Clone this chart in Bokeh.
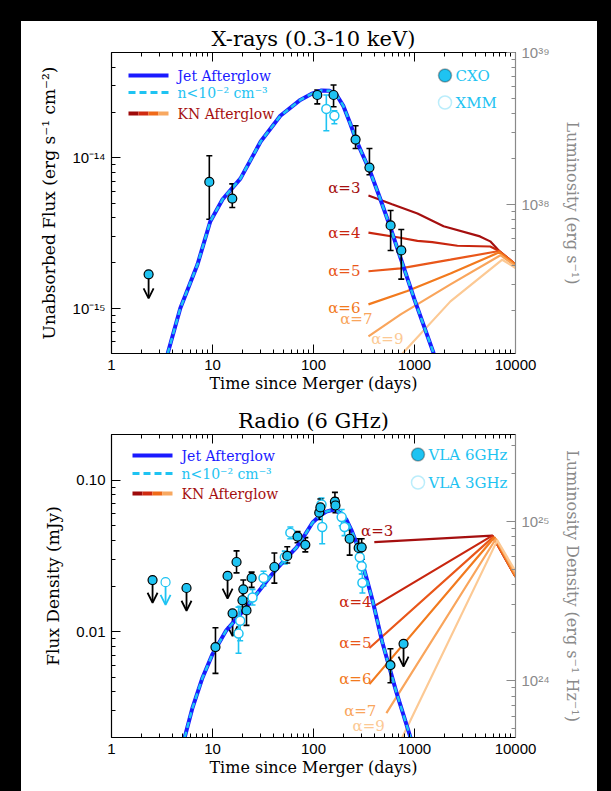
import numpy as np
from bokeh.plotting import figure
from bokeh.models import (Range1d, LogScale, LogAxis, FixedTicker, CustomJSTickFormatter,
                          ColumnDataSource, Whisker, TeeHead, Arrow, OpenHead, Label,
                          BoxAnnotation)
from bokeh.layouts import column
from bokeh.embed import file_html
from bokeh.resources import INLINE

# ------------------------------------------------------------------ data
# X-rays: jet afterglow model (days, erg s^-1 cm^-2)
xray_model_t = [3.6, 4.8, 7.1, 9.5, 12.6, 18.9, 30, 47, 74, 95, 120, 145, 170, 198, 230,
                261, 300, 366, 450, 580, 730, 1000, 1550]
xray_model_f = [5.0e-16, 1.0e-15, 1.95e-15, 3.77e-15, 5.3e-15, 7.26e-15, 1.28e-14, 1.9e-14,
                2.42e-14, 2.65e-14, 2.8e-14, 2.78e-14, 2.6e-14, 2.2e-14, 1.7e-14, 1.34e-14,
                1.08e-14, 8.0e-15, 5.5e-15, 3.4e-15, 2.14e-15, 1.14e-15, 5.0e-16]

# X-rays: kilonova afterglow curves
kn_alpha = ["3", "4", "5", "6", "7", "9"]
xray_kn_t = [[350, 600, 1070, 1940, 4450, 5620, 6900, 10000],
             [350, 700, 1070, 1500, 2660, 5620, 6900, 10000],
             [350, 730, 2270, 6900, 10000],
             [350, 850, 2270, 6900, 10000],
             [350, 730, 2270, 7100, 10000],
             [760, 2270, 7400, 10000]]
xray_kn_f = [[5.6e-15, 4.9e-15, 4.26e-15, 3.5e-15, 3.0e-15, 2.78e-15, 2.4e-15, 1.95e-15],
             [3.18e-15, 2.95e-15, 2.8e-15, 2.75e-15, 2.6e-15, 2.57e-15, 2.4e-15, 1.95e-15],
             [1.76e-15, 1.84e-15, 2.1e-15, 2.4e-15, 1.95e-15],
             [1.06e-15, 1.3e-15, 1.7e-15, 2.35e-15, 1.95e-15],
             [6.5e-16, 9.1e-16, 1.44e-15, 2.25e-15, 1.9e-15],
             [5.0e-16, 1.11e-15, 2.1e-15, 1.85e-15]]

# X-rays: observations
cxo_t = [9.3, 15.7, 109, 158, 261, 358, 580, 740]
cxo_f = [6.9e-15, 5.35e-15, 2.61e-14, 2.61e-14, 1.32e-14, 8.6e-15, 3.55e-15, 2.42e-15]
cxo_lo = [3.9e-15, 4.67e-15, 2.28e-14, 2.18e-14, 1.15e-14, 7.7e-15, 2.42e-15, 1.56e-15]
cxo_hi = [1.03e-14, 6.7e-15, 2.82e-14, 3.04e-14, 1.63e-14, 1.15e-14, 4.46e-15, 3.33e-15]
cxo_ul_t = [2.33]
cxo_ul_f = [1.68e-15]
xmm_t = [134, 161]
xmm_f = [2.11e-14, 1.9e-14]
xmm_lo = [1.51e-14, 1.68e-14]
xmm_hi = [2.61e-14, 2.05e-14]

# Radio: jet afterglow model (days, mJy)
radio_model_t = [5.3, 6.3, 7.9, 10, 13.7, 18.5, 27, 39, 55, 68, 83, 98, 115, 134, 160, 190,
                 211, 240, 266, 305, 384, 480, 660, 935]
radio_model_f = [0.002, 0.0031, 0.0049, 0.0071, 0.0102, 0.0128, 0.0175, 0.024, 0.031, 0.036,
                 0.044, 0.0525, 0.058, 0.062, 0.064, 0.060, 0.055, 0.046, 0.0386, 0.0284,
                 0.0161, 0.0085, 0.004, 0.0019]

# Radio: kilonova afterglow curves
radio_kn_t = [[400, 5900, 10000], [384, 5900, 10000], [358, 6000, 10000],
              [358, 6200, 10000], [527, 6400, 10000], [700, 6600, 10000]]
radio_kn_f = [[0.039, 0.043, 0.023], [0.0145, 0.043, 0.023], [0.0078, 0.042, 0.023],
              [0.0045, 0.042, 0.023], [0.0029, 0.041, 0.024], [0.0018, 0.040, 0.025]]

# Radio: observations
vla6_t = [10.7, 17.3, 19.8, 20.2, 21.7, 24.4, 41, 55, 69.5, 83, 114, 117, 163, 165, 228,
          280, 300, 578]
vla6_f = [0.0079, 0.0288, 0.0161, 0.019, 0.0138, 0.0226, 0.0267, 0.0316, 0.0424, 0.0374,
          0.061, 0.066, 0.072, 0.068, 0.041, 0.0357, 0.036, 0.0060]
vla6_lo = [0.0053, 0.0244, 0.0135, 0.0154, 0.011, 0.0196, 0.0209, 0.0284, 0.0386, 0.0336,
           0.055, 0.060, 0.064, 0.061, 0.032, 0.030, 0.030, 0.0046]
vla6_hi = [0.0106, 0.0341, 0.019, 0.0219, 0.0166, 0.0247, 0.033, 0.0363, 0.0457, 0.0417,
           0.067, 0.075, 0.083, 0.076, 0.047, 0.041, 0.041, 0.0077]
vla6_ul_t = [2.55, 5.53, 14.1, 15.8, 779]
vla6_ul_f = [0.0219, 0.0194, 0.0233, 0.0132, 0.0083]
vla3_t = [18.1, 18.8, 24.9, 32, 52, 59, 120, 122, 190, 203, 287, 300, 305]
vla3_f = [0.0097, 0.0118, 0.0168, 0.0226, 0.031, 0.045, 0.069, 0.049, 0.057, 0.049, 0.031,
          0.027, 0.021]
vla3_lo = [0.0072, 0.0087, 0.015, 0.020, 0.028, 0.041, 0.062, 0.038, 0.050, 0.043, 0.027,
           0.024, 0.018]
vla3_hi = [0.0145, 0.0147, 0.019, 0.025, 0.034, 0.049, 0.076, 0.069, 0.064, 0.055, 0.035,
           0.030, 0.024]
vla3_ul_t = [3.43]
vla3_ul_f = [0.0212]

x_decades = [1, 10, 100, 1000, 10000]

# ------------------------------------------------------------------ style
SERIF = "DejaVu Serif"
SANS = "Liberation Sans"
BLUE = "#1a1aff"
CYAN = "#1ec3f2"
GRAY = "#8a8a8a"
DARKRED = "#a50f0f"
KN_COLORS = ["#a50f0f", "#c8260f", "#e9571a", "#f27a1e", "#f9a55c", "#fcc994"]
KN_LEG = ["#9e0a0a", "#d02a10", "#f06a18", "#f8a860"]

EXP_JS = """
const sup = {'-':'\u207b','0':'\u2070','1':'\u00b9','2':'\u00b2','3':'\u00b3','4':'\u2074',
             '5':'\u2075','6':'\u2076','7':'\u2077','8':'\u2078','9':'\u2079'};
const e = Math.round(Math.log10(tick));
return '10' + String(e).split('').map(c => sup[c]).join('');
"""


def log_ticker(k0, k1):
    major = [10.0 ** k for k in range(k0, k1 + 1)]
    minor = [m * 10.0 ** k for k in range(k0, k1 + 1) for m in range(2, 10)]
    return FixedTicker(ticks=major, minor_ticks=minor)


def style_axis(ax, color="black"):
    ax.axis_line_color = color
    ax.axis_line_width = 1.2
    ax.major_tick_line_color = color
    ax.minor_tick_line_color = color
    ax.major_tick_in = 9
    ax.major_tick_out = 0
    ax.minor_tick_in = 4
    ax.minor_tick_out = 0
    ax.major_label_text_font = SANS
    ax.major_label_text_font_size = "15px"
    ax.major_label_text_color = color
    ax.major_label_standoff = 6
    ax.axis_label_text_font = SERIF
    ax.axis_label_text_font_size = "16px"
    ax.axis_label_text_font_style = "normal"
    ax.axis_label_text_color = color


def make_panel(title, yr, ylabel, y_ticker, y_fmt, ryr, rlabel, r_ticker, height, b_top, b_bottom):
    p = figure(width=576, height=height, x_axis_type="log", y_axis_type="log",
               x_range=Range1d(1, 10000), y_range=Range1d(*yr),
               output_backend="svg", toolbar_location=None,
               min_border_left=90, min_border_right=82,
               min_border_top=b_top, min_border_bottom=b_bottom,
               background_fill_color="white", border_fill_color="white")
    p.grid.visible = False
    p.outline_line_color = None
    p.title.text = title
    p.title.align = "center"
    p.title.text_font = SERIF
    p.title.text_font_size = "21px"
    p.title.text_font_style = "normal"
    p.title.text_color = "black"
    p.title.standoff = 4

    bx = p.below[0]
    bx.ticker = FixedTicker(ticks=x_decades,
                            minor_ticks=[m * 10.0 ** k for k in range(0, 4) for m in range(2, 10)])
    bx.formatter = CustomJSTickFormatter(code="return String(Math.round(tick));")
    bx.axis_label = "Time since Merger (days)"
    style_axis(bx)
    bx.axis_label_standoff = 1

    top = LogAxis(ticker=FixedTicker(ticks=x_decades,
                                     minor_ticks=[m * 10.0 ** k for k in range(0, 4) for m in range(2, 10)]),
                  formatter=CustomJSTickFormatter(code="return '';"))
    style_axis(top)
    top.major_label_standoff = 0
    p.add_layout(top, "above")

    ly = p.left[0]
    ly.ticker = y_ticker
    ly.formatter = y_fmt
    ly.axis_label = ylabel
    style_axis(ly)
    ly.axis_label_text_font_size = "17px"
    ly.axis_label_standoff = 10

    p.extra_y_ranges = {"lum": Range1d(*ryr)}
    p.extra_y_scales = {"lum": LogScale()}
    ry = LogAxis(y_range_name="lum", ticker=r_ticker,
                 formatter=CustomJSTickFormatter(code=EXP_JS), axis_label=rlabel)
    style_axis(ry, GRAY)
    ry.axis_label_standoff = 10
    p.add_layout(ry, "right")
    return p


def errorbars(p, t, lo, hi, color):
    p.segment(x0=t, y0=lo, x1=t, y1=hi, line_color=color, line_width=1.6)
    src = ColumnDataSource(dict(t=t, lo=lo, hi=hi))
    p.add_layout(Whisker(source=src, base="t", lower="lo", upper="hi", line_alpha=0,
                         upper_head=TeeHead(size=6, line_color=color, line_width=1.6),
                         lower_head=TeeHead(size=6, line_color=color, line_width=1.6)))


def upper_limits(p, t, f, factor, color, fill, line):
    f_end = list(np.array(f) / factor)
    src = ColumnDataSource(dict(t=t, f=f, f_end=f_end))
    p.add_layout(Arrow(source=src, x_start="t", y_start="f", x_end="t", y_end="f_end",
                       line_color=color, line_width=1.8, level="underlay",
                       end=OpenHead(size=10, line_color=color, line_width=1.8)))
    p.scatter(t, f, size=9, marker="circle", fill_color=fill, line_color=line, line_width=1.2)


def legend_box(p, x0, x1, yc, h, color, radius=0, line=None):
    p.add_layout(BoxAnnotation(left=x0, right=x1, bottom=yc - h / 2, top=yc + h / 2,
                               left_units="screen", right_units="screen",
                               bottom_units="screen", top_units="screen",
                               fill_color=color, fill_alpha=1.0, line_color=line,
                               line_width=1.5, border_radius=radius, level="overlay"))


def legend_text(p, x, y, text, color, size):
    p.add_layout(Label(x=x, y=y, x_units="screen", y_units="screen", text=text,
                       text_color=color, text_font=SERIF, text_font_size=size,
                       text_baseline="middle", text_align="left"))


def model_legend(p, x0, y_jet, y_n, y_kn):
    legend_box(p, x0, x0 + 40, y_jet, 4, BLUE)
    for k in range(4):
        legend_box(p, x0 + 11 * k, x0 + 11 * k + 7, y_n, 3, CYAN)
    for k, c in enumerate(KN_LEG):
        legend_box(p, x0 + 10 * k, x0 + 10 * k + 10, y_kn, 4, c)
    legend_text(p, x0 + 49, y_jet, "Jet Afterglow", BLUE, "14px")
    legend_text(p, x0 + 49, y_n, "n<10\u207b\u00b2 cm\u207b\u00b3", CYAN, "14px")
    legend_text(p, x0 + 49, y_kn, "KN Afterglow", DARKRED, "14px")


def kn_curves(p, ts, fs, offsets):
    for i, (t, f) in enumerate(zip(ts, fs)):
        p.line(t, f, line_color=KN_COLORS[i], line_width=2.2)
    for i, (t, f) in enumerate(zip(ts, fs)):
        dx, dy = offsets[i]
        p.add_layout(Label(x=t[0], y=f[0], text="\u03b1=" + kn_alpha[i], text_color=KN_COLORS[i],
                           text_font=SERIF, text_font_size="15px", text_align="right",
                           text_baseline="middle", x_offset=dx, y_offset=dy))


# ------------------------------------------------------------------ X-ray panel
p1 = make_panel("X-rays (0.3-10 keV)", (5e-16, 5e-14), "Unabsorbed Flux (erg s\u207b\u00b9 cm\u207b\u00b2)",
                log_ticker(-17, -13), CustomJSTickFormatter(code=EXP_JS),
                (1.05e37, 1e39), "Luminosity (erg s\u207b\u00b9)", log_ticker(36, 40),
                height=374, b_top=31, b_bottom=42)

kn_curves(p1, xray_kn_t, xray_kn_f,
          [(-8, 8), (-8, 0), (-8, 0), (-8, -4), (4, 17), (1, 15)])
p1.line(xray_model_t, xray_model_f, line_color=BLUE, line_width=4)
p1.line(xray_model_t, xray_model_f, line_color=CYAN, line_width=2.5, line_dash="6 4")
errorbars(p1, xmm_t, xmm_lo, xmm_hi, CYAN)
errorbars(p1, cxo_t, cxo_lo, cxo_hi, "black")
p1.scatter(xmm_t, xmm_f, size=9, marker="circle", fill_color="white", line_color=CYAN, line_width=1.5)
p1.scatter(cxo_t, cxo_f, size=9, marker="circle", fill_color=CYAN, line_color="black", line_width=1.2)
upper_limits(p1, cxo_ul_t, cxo_ul_f, 10 ** 0.16, "black", CYAN, "black")

model_legend(p1, 17, 278, 261, 240)
legend_box(p1, 327, 340, 278, 13, CYAN, radius=7, line="black")
legend_text(p1, 344, 278, "CXO", CYAN, "15px")
legend_box(p1, 327, 340, 251, 13, "white", radius=7, line=CYAN)
legend_text(p1, 344, 251, "XMM", CYAN, "15px")

# ------------------------------------------------------------------ Radio panel
p2 = make_panel("Radio (6 GHz)", (2e-3, 0.2), "Flux Density (mJy)",
                log_ticker(-3, -1), CustomJSTickFormatter(code="return tick.toFixed(2);"),
                (4.4e23, 3.5e25), "Luminosity Density (erg s\u207b\u00b9 Hz\u207b\u00b9)",
                log_ticker(22, 26), height=396, b_top=39, b_bottom=54)

kn_curves(p2, radio_kn_t, radio_kn_f,
          [(19, 11), (-1, 5), (2, 5), (2, 5), (-10, 2), (-14, 18)])
p2.line(radio_model_t, radio_model_f, line_color=BLUE, line_width=4)
p2.line(radio_model_t, radio_model_f, line_color=CYAN, line_width=2.5, line_dash="6 4")
errorbars(p2, vla3_t, vla3_lo, vla3_hi, CYAN)
errorbars(p2, vla6_t, vla6_lo, vla6_hi, "black")
p2.scatter(vla3_t, vla3_f, size=9, marker="circle", fill_color="white", line_color=CYAN, line_width=1.5)
p2.scatter(vla6_t, vla6_f, size=9, marker="circle", fill_color=CYAN, line_color="black", line_width=1.2)
upper_limits(p2, vla6_ul_t, vla6_ul_f, 10 ** 0.15, "black", CYAN, "black")
upper_limits(p2, vla3_ul_t, vla3_ul_f, 10 ** 0.15, CYAN, "white", CYAN)

model_legend(p2, 21, 282, 264, 244)
legend_box(p2, 300, 313, 283, 13, CYAN, radius=7, line="black")
legend_text(p2, 317, 283, "VLA 6GHz", CYAN, "15px")
legend_box(p2, 300, 313, 255, 13, "white", radius=7, line=CYAN)
legend_text(p2, 317, 255, "VLA 3GHz", CYAN, "15px")

layout = column(p1, p2, spacing=0)
layout.margin = (21, 0, 0, 21)
layout.styles = {"background-color": "white"}

html = file_html(layout, INLINE, title="GW170817 afterglow")
html = html.replace("</head>", "<style>html,body{background:#000000;}</style></head>", 1)
open("out.html", "w").write(html)
